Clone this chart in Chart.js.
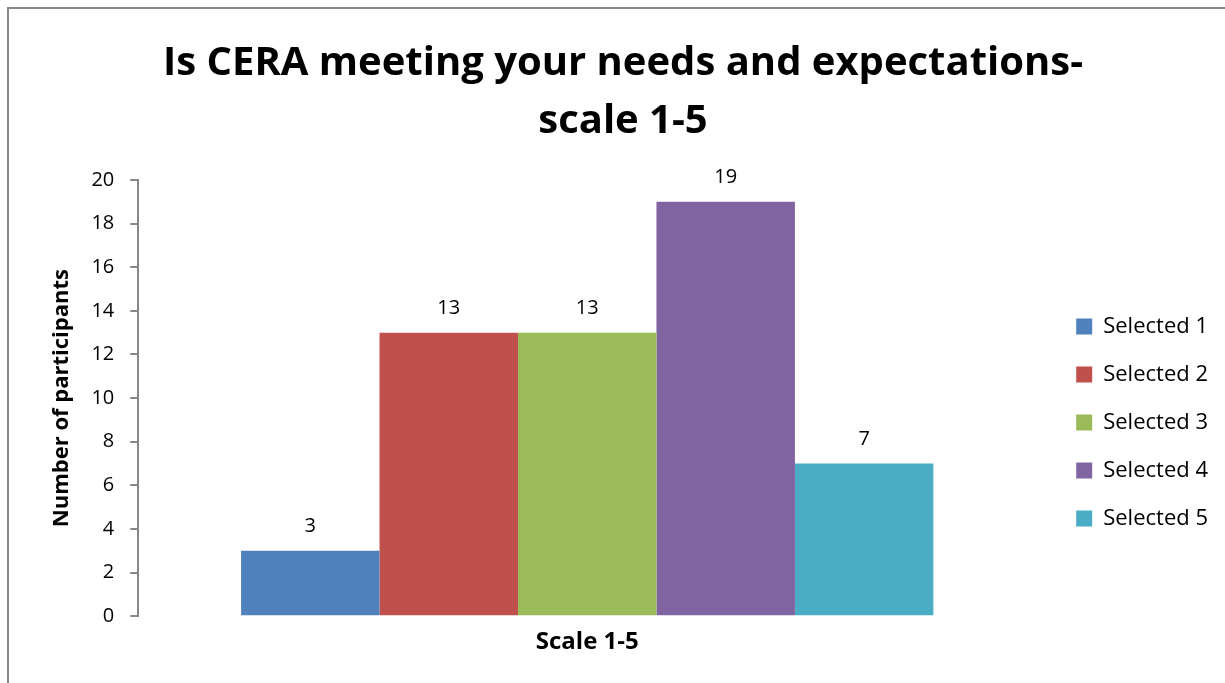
<!DOCTYPE html>
<html>
<head>
<meta charset="utf-8">
<script src="https://cdn.jsdelivr.net/npm/chart.js@4.4.1/dist/chart.umd.min.js"></script>
<style>
  html, body { margin: 0; padding: 0; background: #fff; }
  #wrap { position: relative; width: 1225px; height: 683px; overflow: hidden; }
  #frame { position: absolute; left: 7px; top: 7px; width: 1400px; height: 900px;
           border-left: 2px solid #878787; border-top: 2px solid #878787; }
  canvas { position: absolute; left: 0; top: 0; }
</style>
</head>
<body>
<div id="wrap">
  <div id="frame"></div>
  <canvas id="c" width="1225" height="683"></canvas>
</div>
<script>
const categories = ["Scale 1-5"];
const seriesNames = ["Selected 1", "Selected 2", "Selected 3", "Selected 4", "Selected 5"];
const seriesValues = [3, 13, 13, 19, 7];
const seriesColors = ["#4F81BD", "#C0504D", "#9BBB59", "#8064A2", "#4BACC6"];
const yTicks = [0, 2, 4, 6, 8, 10, 12, 14, 16, 18, 20];

const FONT = "'Open Sans', sans-serif";

// values above each bar
const valueLabels = {
  id: "valueLabels",
  afterDatasetsDraw(chart) {
    const ctx = chart.ctx;
    ctx.save();
    ctx.font = "20px " + FONT;
    ctx.fillStyle = "#000";
    ctx.textAlign = "center";
    ctx.textBaseline = "alphabetic";
    chart.data.datasets.forEach((ds, i) => {
      chart.getDatasetMeta(i).data.forEach((bar, j) => {
        ctx.fillText(String(ds.data[j]), bar.x, bar.y - 19);
      });
    });
    ctx.restore();
  }
};

new Chart(document.getElementById("c"), {
  type: "bar",
  data: {
    labels: categories,
    datasets: seriesNames.map((name, i) => ({
      label: name,
      data: [seriesValues[i]],
      backgroundColor: seriesColors[i],
      borderWidth: 0,
      categoryPercentage: 0.771,
      barPercentage: 1
    }))
  },
  options: {
    responsive: false,
    animation: false,
    layout: { padding: { left: 28, right: 7, top: 0, bottom: 22 } },
    plugins: {
      title: {
        display: true,
        text: ["Is CERA meeting your needs and expectations-", "scale 1-5"],
        color: "#000",
        font: { family: FONT, size: 40, weight: "bold", lineHeight: 1.45 },
        padding: { top: 35, bottom: 29 }
      },
      legend: {
        position: "right",
        title: {
          display: true,
          text: " ",
          font: { size: 10, lineHeight: 1 },
          padding: { top: 0, bottom: 174 }
        },
        labels: {
          color: "#000",
          font: { family: FONT, size: 22 },
          boxWidth: 16,
          boxHeight: 16,
          padding: 26
        }
      },
      tooltip: { enabled: false }
    },
    scales: {
      x: {
        grid: { display: false },
        border: { display: false },
        ticks: {
          color: "#000",
          font: { family: FONT, size: 24, weight: "bold" },
          padding: 4
        }
      },
      y: {
        min: 0,
        max: 20,
        afterBuildTicks(s) { s.ticks = yTicks.map(v => ({ value: v })); },
        grid: { drawOnChartArea: false, drawTicks: true, tickLength: 8, color: "#878787", lineWidth: 2 },
        border: { display: true, color: "#878787", width: 2 },
        ticks: { color: "#000", font: { family: FONT, size: 20 }, padding: 16 },
        title: {
          display: true,
          text: "Number of participants",
          color: "#000",
          font: { family: FONT, size: 22, weight: "bold" },
          padding: { top: 21, bottom: 0 }
        }
      },
      y2: {
        position: "right",
        display: true,
        grid: { display: false },
        border: { display: false },
        ticks: { display: false },
        afterFit(s) { s.width = 14; }
      }
    }
  },
  plugins: [valueLabels]
});
</script>
</body>
</html>
